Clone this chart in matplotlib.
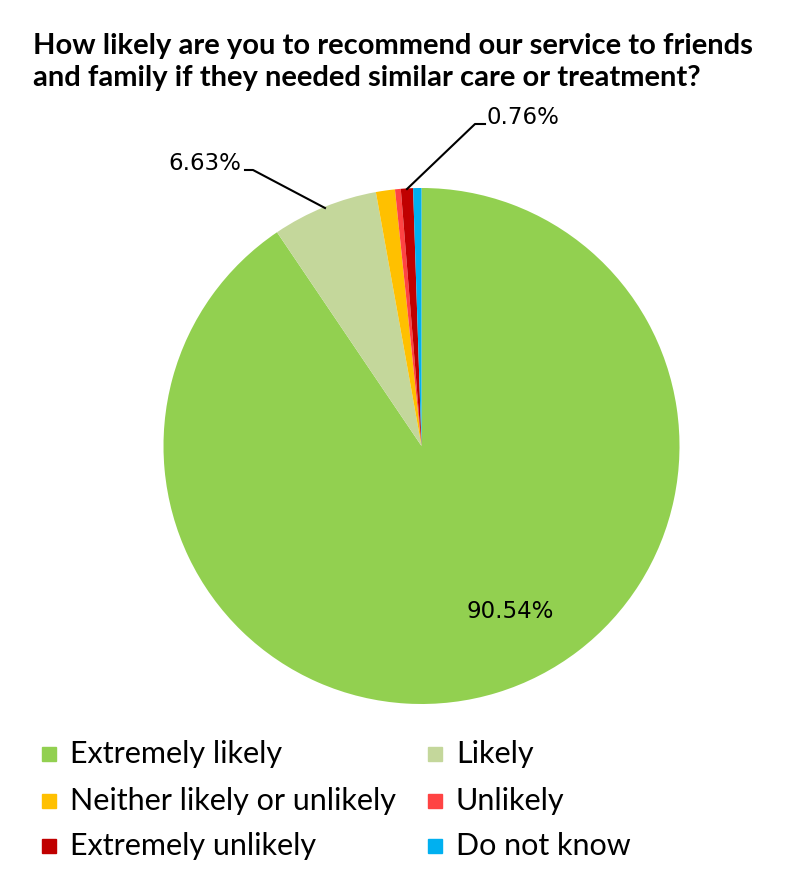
import matplotlib
matplotlib.use("Agg")
import matplotlib.pyplot as plt
from matplotlib.patches import Rectangle

categories = ["Extremely likely", "Likely", "Neither likely or unlikely",
              "Unlikely", "Extremely unlikely", "Do not know"]
values = [90.54, 6.63, 1.19, 0.36, 0.76, 0.52]
colors = ["#92D050", "#C4D79B", "#FFC000", "#FF4343", "#C00000", "#00B0F0"]
title = "How likely are you to recommend our service to friends\nand family if they needed similar care or treatment?"

W, H = 808, 883
fig = plt.figure(figsize=(W / 100, H / 100), dpi=100)

cx, cy, r = 421.5, 446, 258
ax = fig.add_axes([(cx - r) / W, (H - cy - r) / H, 2 * r / W, 2 * r / H])
wedges, _ = ax.pie(values, colors=colors, startangle=90, counterclock=False,
                   radius=1, wedgeprops=dict(linewidth=0))
ax.set_xlim(-1, 1)
ax.set_ylim(-1, 1)
ax.set_aspect("equal")
ax.axis("off")

def px(x, y):
    return ((x - cx) / r, (cy - y) / r)

lab_kw = dict(fontsize=16.5, family="DejaVu Sans", color="black")
# 90.54 inside
ax.text(*px(510, 612), f"{values[0]:.2f}%", ha="center", va="center", **lab_kw)
# 6.63 with leader
ax.text(*px(241, 163), f"{values[1]:.2f}%", ha="right", va="center", **lab_kw)
xs, ys = zip(px(245, 170), px(253, 170), px(325, 208))
ax.plot(xs, ys, color="black", lw=1.5, clip_on=False)
# 0.76 with leader
ax.text(*px(487, 117), f"{values[4]:.2f}%", ha="left", va="center", **lab_kw)
xs, ys = zip(px(485, 124), px(475, 124), px(407, 189))
ax.plot(xs, ys, color="black", lw=1.5, clip_on=False)

fig.text(33 / W, 1 - 62 / H, title, ha="left", va="center", fontsize=21,
         fontweight="bold", family="Lato", linespacing=1.3)

# legend
col_x = [42, 428]
row_y = [754, 801, 846]
for i, (cat, col) in enumerate(zip(categories, colors)):
    x0 = col_x[i % 2]
    y0 = row_y[i // 2]
    fig.patches.append(Rectangle((x0 / W, 1 - (y0 + 7) / H), 14 / W, 14 / H,
                                 transform=fig.transFigure, color=col))
    fig.text((x0 + 28) / W, 1 - y0 / H, cat, ha="left", va="center",
             fontsize=22, family="Lato")

fig.savefig("out.png", dpi=100)
